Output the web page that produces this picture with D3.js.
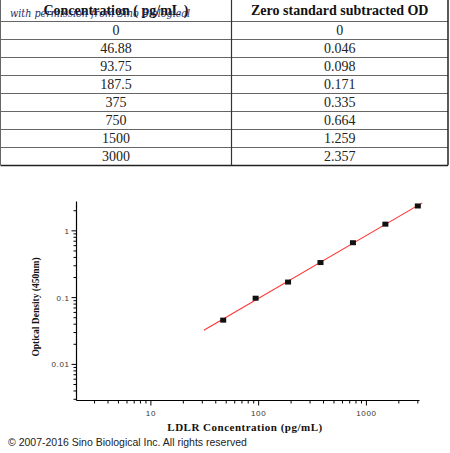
<!DOCTYPE html>
<html><head><meta charset="utf-8">
<script src="https://cdn.jsdelivr.net/npm/d3@7"></script>
<style>
html,body{margin:0;padding:0;background:#fff;}
svg{display:block;}
</style></head>
<body>
<svg id="c" width="450" height="453"></svg>
<script>
// ---- data ----
const headers = ["Concentration ( pg/mL )", "Zero standard subtracted OD"];
const concLabels = ["0", "46.88", "93.75", "187.5", "375", "750", "1500", "3000"];
const odLabels = ["0", "0.046", "0.098", "0.171", "0.335", "0.664", "1.259", "2.357"];
const conc = [46.88, 93.75, 187.5, 375, 750, 1500, 3000];
const od = [0.046, 0.098, 0.171, 0.335, 0.664, 1.259, 2.357];
const xTickValues = [10, 100, 1000];
const yTickValues = [0.01, 0.1, 1];
const xDomain = [2.04, 3110];
const yDomain = [0.00288, 2.75];
const fitRange = [31, 3300];
const xTitle = "LDLR Concentration (pg/mL)";
const yTitle = "Optical Density (450nm)";
const watermark = "with permission from Sino Biological";
const copyright = "\u00A9 2007-2016 Sino Biological Inc. All rights reserved";

const svg = d3.select("#c");

// ---- table ----
const tbl = {x0: 0.5, xm: 231.5, x1: 448, top: 0, headH: 20.5, rowH: 18.1};
const tg = svg.append("g");
const nRows = concLabels.length;
const tBottom = tbl.top + tbl.headH + nRows * tbl.rowH;
const rowY = i => tbl.top + tbl.headH + i * tbl.rowH;

for (let i = 0; i <= nRows; i++) {
  const yy = Math.round(rowY(i)) + 0.5;
  tg.append("line").attr("x1", tbl.x0).attr("x2", tbl.x1).attr("y1", yy).attr("y2", yy)
    .attr("stroke", i === nRows ? "#222" : "#666").attr("stroke-width", i === nRows ? 1.5 : 1);
}
[[tbl.x0, "#666", 1], [tbl.xm, "#333", 1.2], [tbl.x1, "#222", 1.5]].forEach(([xx, c, w]) => {
  tg.append("line").attr("x1", xx).attr("x2", xx).attr("y1", tbl.top).attr("y2", tBottom)
    .attr("stroke", c).attr("stroke-width", w);
});
const c1 = (tbl.x0 + tbl.xm) / 2, c2 = (tbl.xm + tbl.x1) / 2;
tg.selectAll("text.h").data(headers).join("text")
  .attr("x", (d, i) => i === 0 ? c1 : c2).attr("y", 14.5)
  .attr("text-anchor", "middle").attr("font-family", "'Liberation Serif', 'Times New Roman', serif")
  .attr("font-weight", "bold").attr("font-size", 14).attr("fill", "#111").text(d => d);
[concLabels, odLabels].forEach((col, ci) => {
  tg.selectAll(null).data(col).join("text")
    .attr("x", ci === 0 ? c1 : c2).attr("y", (d, i) => rowY(i) + tbl.rowH / 2 + 5)
    .attr("text-anchor", "middle").attr("font-family", "'Liberation Serif', 'Times New Roman', serif")
    .attr("font-size", 14).attr("fill", "#222").text(d => d);
});
tg.append("text").attr("x", 10).attr("y", 17)
  .attr("font-family", "'DejaVu Serif', serif").attr("font-style", "italic")
  .attr("font-size", 11).attr("textLength", 180).attr("lengthAdjust", "spacingAndGlyphs")
  .attr("fill", "#1d2d6b").text(watermark);

// ---- chart ----
const P = {left: 76.5, right: 419.5, top: 201.5, bottom: 400.5};
const x = d3.scaleLog().domain(xDomain).range([P.left, P.right]);
const y = d3.scaleLog().domain(yDomain).range([P.bottom, P.top]);

const g = svg.append("g");
function minorTicks(scale) {
  const [a, b] = scale.domain();
  const out = [];
  for (let e = Math.floor(Math.log10(a)); e <= Math.ceil(Math.log10(b)); e++) {
    for (let m = 1; m <= 9; m++) {
      const v = m * Math.pow(10, e);
      if (v >= a * 0.999 && v <= b * 1.001) out.push({v, major: m === 1});
    }
  }
  return out;
}
g.append("line").attr("x1", P.left).attr("x2", P.right).attr("y1", P.bottom).attr("y2", P.bottom)
  .attr("stroke", "#000").attr("stroke-width", 1.2);
g.append("line").attr("x1", P.left).attr("x2", P.left).attr("y1", P.top).attr("y2", P.bottom)
  .attr("stroke", "#000").attr("stroke-width", 1.2);
g.selectAll("line.xt").data(minorTicks(x)).join("line")
  .attr("x1", d => x(d.v)).attr("x2", d => x(d.v))
  .attr("y1", P.bottom).attr("y2", d => P.bottom + (d.major ? 5 : 3))
  .attr("stroke", "#000").attr("stroke-width", 1);
g.selectAll("line.yt").data(minorTicks(y)).join("line")
  .attr("y1", d => y(d.v)).attr("y2", d => y(d.v))
  .attr("x1", P.left).attr("x2", d => P.left - (d.major ? 5 : 3))
  .attr("stroke", "#000").attr("stroke-width", 1);
g.selectAll("text.xl").data(xTickValues).join("text")
  .attr("x", d => x(d)).attr("y", P.bottom + 15).attr("text-anchor", "middle")
  .attr("font-family", "'Liberation Sans', Arial, sans-serif").attr("font-size", 8)
  .attr("letter-spacing", 0.6).attr("fill", "#333").text(d => d3.format("")(d));
g.selectAll("text.yl").data(yTickValues).join("text")
  .attr("x", P.left - 7).attr("y", d => y(d) + 3).attr("text-anchor", "end")
  .attr("font-family", "'Liberation Sans', Arial, sans-serif").attr("font-size", 8)
  .attr("letter-spacing", 0.6).attr("fill", "#333").text(d => String(d));

// fit (least squares in log-log from the data)
const lx = conc.map(Math.log10), ly = od.map(Math.log10);
const mx = d3.mean(lx), my = d3.mean(ly);
const slope = d3.sum(lx, (v, i) => (v - mx) * (ly[i] - my)) / d3.sum(lx, v => (v - mx) ** 2);
const icpt = my - slope * mx;
const fitPts = fitRange.map(v => [v, Math.pow(10, icpt + slope * Math.log10(v))]);
g.append("path").datum(fitPts)
  .attr("d", d3.line().x(d => x(d[0])).y(d => y(d[1])))
  .attr("stroke", "#ff3333").attr("stroke-width", 1.1).attr("fill", "none");

g.selectAll("rect.pt").data(conc).join("rect")
  .attr("x", d => x(d) - 3).attr("y", (d, i) => y(od[i]) - 2.5)
  .attr("width", 6).attr("height", 5).attr("fill", "#111");

g.append("text").attr("x", 245).attr("y", 431).attr("text-anchor", "middle")
  .attr("font-family", "'Liberation Serif', serif").attr("font-weight", "bold")
  .attr("font-size", 11).attr("letter-spacing", 0.5).attr("fill", "#111").text(xTitle);
g.append("text").attr("transform", "translate(39,307) rotate(-90)").attr("text-anchor", "middle")
  .attr("font-family", "'Liberation Serif', serif").attr("font-weight", "bold")
  .attr("font-size", 9.5).attr("fill", "#111").text(yTitle);
svg.append("text").attr("x", 8).attr("y", 446)
  .attr("font-family", "'Liberation Sans', Arial, sans-serif").attr("font-size", 10.5)
  .attr("fill", "#222").text(copyright);
</script>
</body></html>
